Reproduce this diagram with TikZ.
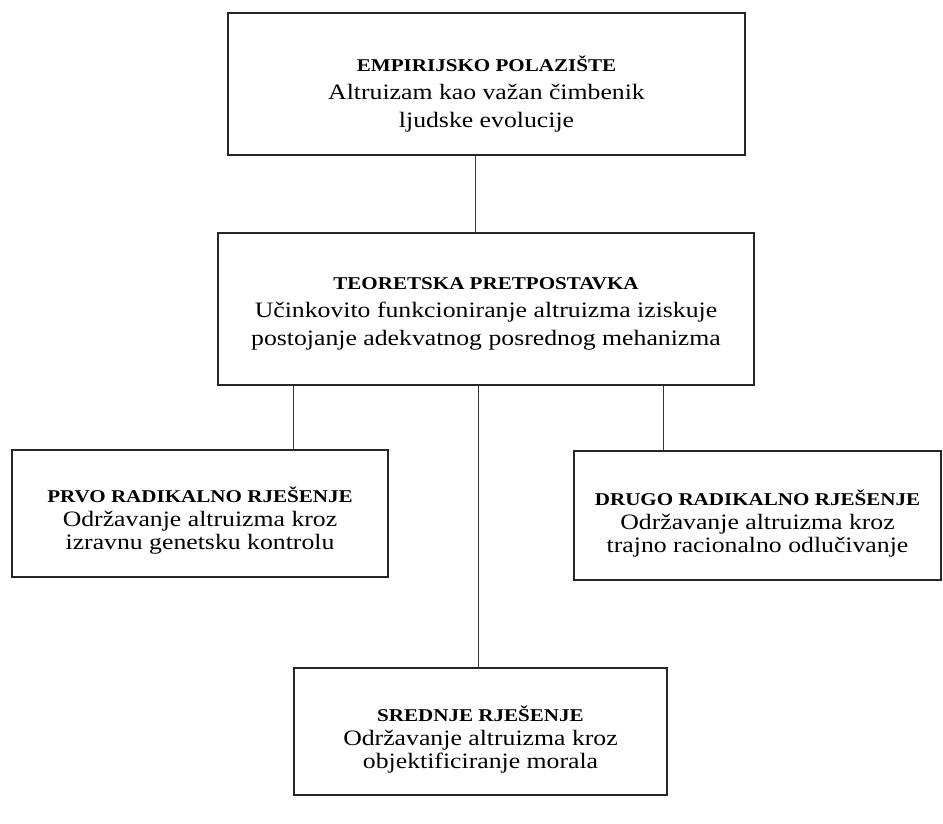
\documentclass[tikz,border=0pt]{standalone}
\usepackage{fontspec}
\setmainfont[FakeStretch=1.17]{Liberation Serif}
\begin{document}
\begin{tikzpicture}[x=1pt,y=-1pt,
  boxstyle/.style={draw=black!85, line width=1.1pt, inner sep=0pt},
  txtwide/.style={align=center, inner sep=0pt, font=\fontsize{22}{28}\selectfont},
  txtlow/.style={align=center, inner sep=0pt, font=\fontsize{22}{23.5}\selectfont},
  conn/.style={draw=black!80, line width=1pt},
]
\newcommand{\ttl}[1]{{\fontsize{18}{18}\selectfont\bfseries #1}}
\useasboundingbox (0,0) rectangle (943,823);
\fill[white] (0,0) rectangle (943,823);

% boxes
\node[boxstyle, minimum width=517pt, minimum height=142pt] (top) at (486.5,84) {};
\node[boxstyle, minimum width=536pt, minimum height=152pt] (mid) at (486,309) {};
\node[boxstyle, minimum width=376pt, minimum height=127pt] (left) at (200,513.5) {};
\node[boxstyle, minimum width=367pt, minimum height=129pt] (right) at (757.5,515.5) {};
\node[boxstyle, minimum width=373pt, minimum height=127pt] (bot) at (480.5,731.5) {};

% texts
\node[txtwide] (toptxt) at (486.5,94) {\ttl{EMPIRIJSKO POLAZIŠTE}\\Altruizam kao važan čimbenik\\ljudske evolucije};
\node[txtwide] (midtxt) at (486,314) {\ttl{TEORETSKA PRETPOSTAVKA}\\Učinkovito funkcioniranje altruizma iziskuje\\postojanje adekvatnog posrednog mehanizma};
\node[txtlow] (lefttxt) at (200,521) {\ttl{PRVO RADIKALNO RJEŠENJE}\\Održavanje altruizma kroz\\izravnu genetsku kontrolu};
\node[txtlow] (righttxt) at (757.5,524) {\ttl{DRUGO RADIKALNO RJEŠENJE}\\Održavanje altruizma kroz\\trajno racionalno odlučivanje};
\node[txtlow] (bottxt) at (480.5,740) {\ttl{SREDNJE RJEŠENJE}\\Održavanje altruizma kroz\\objektificiranje morala};

% connector columns
\coordinate (c0) at (475,0);
\coordinate (c1) at (293,0);
\coordinate (c2) at (478,0);
\coordinate (c3) at (663,0);

\draw[conn] (top.south -| c0) -- (mid.north -| c0);
\draw[conn] (mid.south -| c1) -- (left.north -| c1);
\draw[conn] (mid.south -| c2) -- (bot.north -| c2);
\draw[conn] (mid.south -| c3) -- (right.north -| c3);
\end{tikzpicture}
\end{document}
